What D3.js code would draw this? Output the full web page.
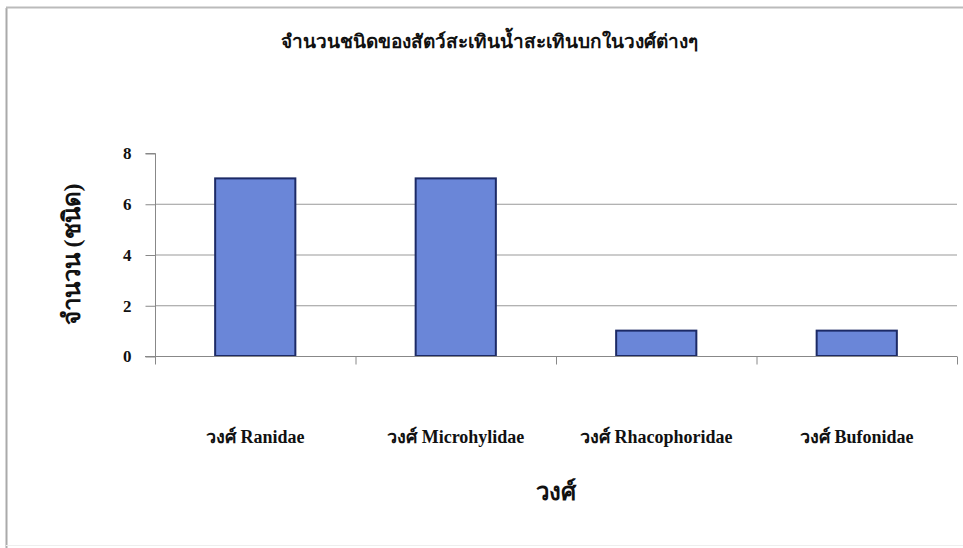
<!DOCTYPE html>
<html><head><meta charset="utf-8">
<script src="https://cdn.jsdelivr.net/npm/d3@7/dist/d3.min.js"></script>
<style>body{margin:0;background:#fff}svg{display:block}</style>
</head><body><svg id="c" width="963" height="548"></svg>
<script>
const categories = ["วงศ์ Ranidae","วงศ์ Microhylidae","วงศ์ Rhacophoridae","วงศ์ Bufonidae"];
const values = [7, 7, 1, 1];
const yTicks = [0, 2, 4, 6, 8];
const title = "จำนวนชนิดของสัตว์สะเทินน้ำสะเทินบกในวงศ์ต่างๆ";
const xTitle = "วงศ์";
const yTitle = "จำนวน (ชนิด)";

const svg = d3.select("#c");
const font = "'Liberation Serif','Times New Roman',serif";
const m = {l:155, r:957, t:153, b:356};

// frame
svg.append("line").attr("x1",6.5).attr("x2",6.5).attr("y1",8).attr("y2",548).attr("stroke","#aaa").attr("stroke-width",2);
svg.append("line").attr("x1",6).attr("x2",963).attr("y1",7.5).attr("y2",7.5).attr("stroke","#bbb").attr("stroke-width",2);
svg.append("line").attr("x1",6).attr("x2",963).attr("y1",545.5).attr("y2",545.5).attr("stroke","#eee").attr("stroke-width",1);

const x = d3.scaleBand().domain(categories).range([m.l, m.r]).paddingInner(0.6).paddingOuter(0.3);
const y = d3.scaleLinear().domain([0, 8]).range([m.b, m.t]);

// gridlines
svg.append("g").selectAll("line").data(yTicks.filter(d=>d>0 && d<8)).join("line")
  .attr("x1", m.l).attr("x2", m.r).attr("y1", d=>y(d)+0.5).attr("y2", d=>y(d)+0.5)
  .attr("stroke","#999").attr("stroke-width",1);

// y axis
const ya = svg.append("g").attr("transform",`translate(${m.l+0.5},0.5)`)
  .call(d3.axisLeft(y).tickValues(yTicks).tickSize(10).tickPadding(14));
ya.select(".domain").attr("stroke","#888").attr("d",`M-10,${y(8)}H0V${y(0)}`);
ya.selectAll(".tick line").attr("stroke","#888");
ya.selectAll("text").attr("font-family",font).attr("font-weight","bold").attr("font-size",17).attr("fill","#111");

// bars
svg.append("g").selectAll("rect").data(values).join("rect")
  .attr("x",(d,i)=>x(categories[i])).attr("width",x.bandwidth())
  .attr("y",d=>y(d)).attr("height",d=>y(0)-y(d))
  .attr("fill","#6a86d8").attr("stroke","#1c2a66").attr("stroke-width",2);

// x axis
const step = x.step();
const xa = svg.append("g").attr("transform",`translate(0,${m.b+0.5})`);
xa.append("line").attr("x1",m.l - 10).attr("x2",m.r).attr("stroke","#888");
const bounds = d3.range(categories.length+1).map(i=>m.l + i*step);
xa.selectAll(".tk").data(bounds).join("line").attr("class","tk")
  .attr("x1",d=>d+0.5).attr("x2",d=>d+0.5).attr("y1",0).attr("y2",8).attr("stroke","#888");
xa.selectAll("text").data(categories).join("text")
  .attr("x",d=>x(d)+x.bandwidth()/2).attr("y",86)
  .attr("text-anchor","middle").attr("font-family",font).attr("font-weight","bold").attr("font-size",18).attr("fill","#111")
  .text(d=>d);

// titles
svg.append("text").attr("x",489).attr("y",48).attr("text-anchor","middle")
  .attr("font-family",font).attr("font-weight","bold").attr("font-size",19).attr("fill","#111").text(title);
svg.append("text").attr("x",(m.l+m.r)/2).attr("y",500).attr("text-anchor","middle")
  .attr("font-family",font).attr("font-weight","bold").attr("font-size",24).attr("fill","#111").text(xTitle);
svg.append("text").attr("transform",`translate(80,${(m.t+m.b)/2}) rotate(-90)`).attr("text-anchor","middle")
  .attr("font-family",font).attr("font-weight","bold").attr("font-size",24).attr("fill","#111").text(yTitle);
</script></body></html>
